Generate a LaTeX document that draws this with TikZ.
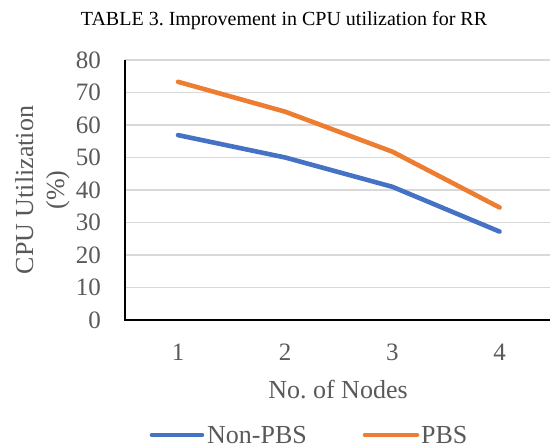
\documentclass[tikz,border=0pt]{standalone}
\usepackage{fontspec}
\setmainfont{Liberation Serif}
\frenchspacing
\definecolor{seriesblue}{HTML}{4472C4}
\definecolor{seriesorange}{HTML}{ED7D31}
\definecolor{gridgray}{HTML}{D9D9D9}
\definecolor{labelgray}{HTML}{595959}
\tikzset{
  gridline/.style={draw=gridgray, line width=1.5pt},
  axisline/.style={draw=black, line width=1.2pt},
  series/.style={line width=4.6pt, line cap=round, line join=round},
  ticklab/.style={text=labelgray, inner sep=0pt, font=\fontsize{25}{30}\selectfont},
  axislab/.style={text=labelgray, inner sep=0pt, font=\fontsize{26}{31}\selectfont},
  titlelab/.style={text=black, inner sep=0pt, font=\fontsize{20}{24}\selectfont},
}
\begin{document}
\begin{tikzpicture}[x=1pt, y=-1pt]
\useasboundingbox (0,0) rectangle (550,448);
% title
\node[titlelab, anchor=base] (title) at (284,25) {TABLE 3. Improvement in CPU utilization for RR};
% gridlines
\foreach \k in {0,...,7} {
  \draw[gridline] (125,60+32.5*\k) -- (550,60+32.5*\k);
}
% axes
\coordinate (ytop) at (125,59.5);
\coordinate (origin) at (125,320);
\coordinate (xend) at (550,320);
\draw[axisline] (ytop) -- (origin) -- (xend);
% y tick labels
\foreach \v [count=\i from 0] in {0,10,20,30,40,50,60,70,80} {
  \node[ticklab, anchor=east] (yt\v) at (101,320-32.5*\i) {\v};
}
% x tick labels
\foreach \c in {1,2,3,4} {
  \node[ticklab, anchor=base] (xt\c) at (178+107.2*\c-107.2,360) {\c};
}
% axis titles
\node[axislab, anchor=base] (xlab) at (338,398) {No. of Nodes};
\node[axislab, anchor=base, rotate=90] (ylab1) at (33,190) {CPU Utilization};
\node[axislab, anchor=base, rotate=90] (ylab2) at (64,190) {(\%)};
% data
\coordinate (b1) at (178,135.1);
\coordinate (b2) at (285.2,157.5);
\coordinate (b3) at (392.4,186.8);
\coordinate (b4) at (499.6,231.6);
\coordinate (o1) at (178,81.8);
\coordinate (o2) at (285.2,111.7);
\coordinate (o3) at (392.4,151.7);
\coordinate (o4) at (499.6,207.5);
\draw[series, seriesblue] (b1) -- (b2) -- (b3) -- (b4);
\draw[series, seriesorange] (o1) -- (o2) -- (o3) -- (o4);
% legend
\coordinate (lb1) at (152,435);
\coordinate (lb2) at (202,435);
\coordinate (lo1) at (365,435);
\coordinate (lo2) at (417,435);
\draw[series, seriesblue] (lb1) -- (lb2);
\draw[series, seriesorange] (lo1) -- (lo2);
\node[axislab, anchor=west] (legb) at (207,435) {Non-PBS};
\node[axislab, anchor=west] (lego) at (421,435) {PBS};
\end{tikzpicture}
\end{document}
